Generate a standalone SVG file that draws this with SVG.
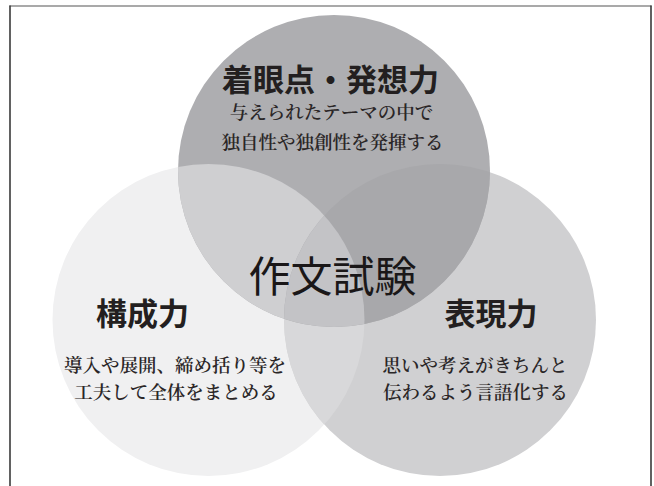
<svg xmlns="http://www.w3.org/2000/svg" width="654" height="486" viewBox="0 0 654 486">
  <style>
    .head { font-family: "Noto Sans CJK JP", "Noto Sans", sans-serif; font-weight: 700; font-size: 31px; fill: #231f20; text-anchor: middle; }
    .sub { font-family: "Noto Serif CJK JP", "Noto Sans CJK JP", serif; font-weight: 600; font-size: 18.5px; fill: #2a2627; text-anchor: middle; }
    .center { font-family: "Noto Sans CJK JP", "Noto Sans", sans-serif; font-weight: 400; font-size: 42px; fill: #1a1718; text-anchor: middle; }
  </style>
  <defs>
    <circle id="cTop" cx="334" cy="171" r="156"/>
    <circle id="cLeft" cx="208.5" cy="320" r="156"/>
    <circle id="cRight" cx="440" cy="320" r="156"/>
    <clipPath id="clipLeft"><use href="#cLeft"/></clipPath>
    <clipPath id="clipRight"><use href="#cRight"/></clipPath>
  </defs>
  <rect x="0" y="0" width="654" height="486" fill="#ffffff"/>
  <!-- frame -->
  <g id="frame" fill="none">
    <line x1="9.5" y1="6" x2="651.5" y2="6" stroke="#8c8c8c" stroke-width="1.5"/>
    <line x1="10" y1="5.5" x2="10" y2="486" stroke="#3a3a3a" stroke-width="1.6"/>
    <line x1="651" y1="5.5" x2="651" y2="486" stroke="#3a3a3a" stroke-width="1.6"/>
  </g>
  <!-- base circles -->
  <g id="node-left-shape"><use href="#cLeft" fill="#f0f0f1"/></g>
  <g id="node-right-shape"><use href="#cRight" fill="#d0d0d2"/></g>
  <g id="node-top-shape"><use href="#cTop" fill="#aeaeb1"/></g>
  <!-- overlaps -->
  <g id="overlaps">
    <use href="#cRight" fill="#d8d8da" clip-path="url(#clipLeft)"/>
    <use href="#cTop" fill="#cfcfd1" clip-path="url(#clipLeft)"/>
    <use href="#cTop" fill="#a8a8ab" clip-path="url(#clipRight)"/>
    <g clip-path="url(#clipLeft)">
      <use href="#cTop" fill="#c3c3c6" clip-path="url(#clipRight)"/>
    </g>
  </g>
  <g id="node-top">
    <text class="head" x="330.5" y="91">着眼点・発想力</text>
    <text class="sub" x="331.5" y="119">与えられたテーマの中で</text>
    <text class="sub" x="332.5" y="149">独自性や独創性を発揮する</text>
  </g>
  <g id="node-left">
    <text class="head" x="142.5" y="325">構成力</text>
    <text class="sub" x="175" y="372">導入や展開、締め括り等を</text>
    <text class="sub" x="176" y="399">工夫して全体をまとめる</text>
  </g>
  <g id="node-right">
    <text class="head" x="491" y="325">表現力</text>
    <text class="sub" x="475" y="372">思いや考えがきちんと</text>
    <text class="sub" x="475.5" y="399">伝わるよう言語化する</text>
  </g>
  <g id="node-center">
    <text class="center" x="332.5" y="292">作文試験</text>
  </g>
  <g id="connectors"/>
</svg>
